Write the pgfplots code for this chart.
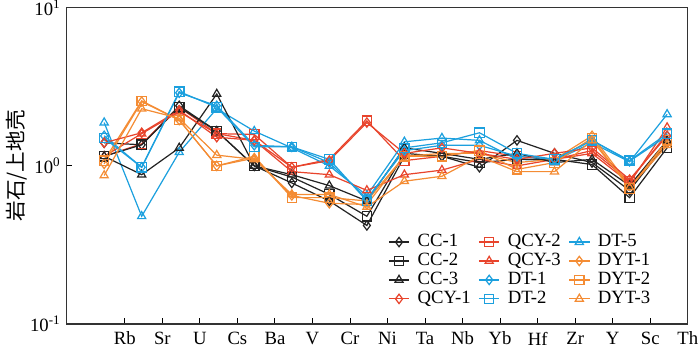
\documentclass[border=0pt]{standalone}
\usepackage{fontspec}
\setmainfont{Liberation Serif}
\newfontfamily\cjk{Noto Sans CJK SC}
\usepackage{pgfplots}
\usepackage{pgfplotstable}
\pgfplotsset{compat=1.18}

\definecolor{ccc}{RGB}{35,35,35}
\definecolor{qcy}{RGB}{232,68,44}
\definecolor{dt}{RGB}{28,160,222}
\definecolor{dyt}{RGB}{244,140,52}

% element index 0..15, values normalised to upper crust
\pgfplotstableread{
i  CCa  CCb  CCc  QCYa QCYb QCYc DTa  DTb  DTe  DYTa DYTb DYTc
0  1.40 1.15 1.15 1.40 1.15 1.15 1.55 1.50 1.88 1.03 1.08 0.87
1  1.36 1.36 0.88 1.62 1.38 1.60 0.98 0.98 0.48 2.55 2.58 2.30
2  2.40 2.35 1.30 2.25 2.35 2.20 2.90 2.95 1.22 1.95 1.95 2.00
3  1.66 1.66 2.85 1.52 1.60 1.60 2.40 2.35 2.30 1.00 1.00 1.17
4  1.00 1.00 1.00 1.45 1.58 1.45 1.35 1.32 1.66 1.12 1.15 1.10
5  0.78 0.85 0.88 0.98 0.98 0.92 1.32 1.32 1.30 0.65 0.63 0.66
6  0.60 0.66 0.75 1.08 1.10 0.88 1.05 1.10 1.00 0.58 0.63 0.66
7  0.42 0.48 0.60 1.88 1.93 0.70 0.62 0.60 0.65 0.57 0.60 0.55
8  1.15 1.20 1.30 1.20 1.08 0.88 1.25 1.30 1.42 1.15 1.15 0.80
9  1.15 1.15 1.20 1.30 1.15 0.94 1.35 1.40 1.50 1.20 1.15 0.86
10 0.98 1.05 1.10 1.20 1.25 1.10 1.35 1.62 1.45 1.20 1.25 1.15
11 1.45 1.10 1.20 1.10 1.15 1.00 1.15 1.20 1.10 1.05 0.95 0.92
12 1.20 1.10 1.05 1.20 1.10 1.10 1.10 1.10 1.08 1.10 1.05 0.92
13 1.05 1.02 1.10 1.30 1.25 1.20 1.45 1.45 1.40 1.55 1.50 1.45
14 0.70 0.63 0.75 0.82 0.80 0.78 1.07 1.08 1.06 0.75 0.72 0.73
15 1.40 1.30 1.45 1.55 1.60 1.75 1.55 1.60 2.12 1.40 1.45 1.35
}\datatab

\begin{document}
\begin{tikzpicture}
\begin{axis}[
    scale only axis,
    width=332pt, height=169pt,
    ymode=log, ymin=0.1, ymax=10,
    ytick={0.1,1,10},
    yticklabels={10\textsuperscript{-1},10\textsuperscript{0},10\textsuperscript{1}},
    yminorticks=false,
    xmin=-1, xmax=15.55,
    xtick={0.55,1.55,2.55,3.55,4.55,5.55,6.55,7.55,8.55,9.55,10.55,11.55,12.55,13.55,14.55,15.55},
    xticklabels={Rb,Sr,U,Cs,Ba,V,Cr,Ni,Ta,Nb,Yb,Hf,Zr,Y,Sc,Th},
    yticklabel style={inner sep=0pt, xshift=-3pt},
    xticklabel style={inner sep=1pt, yshift=-3pt},
    tick align=inside, xtick pos=bottom, ytick pos=left,
    major tick length=3pt,
    tick style={black, line width=0.5pt},
    axis line style={line width=0.7pt, black!80},
    ylabel={\fontsize{11pt}{13pt}\cjk 岩石/上地壳},
    ylabel style={yshift=-2pt},
    every axis plot/.append style={line width=0.65pt, mark size=2.5pt, mark options={solid}},
    legend columns=3,
    legend cell align=left,
    legend image code/.code={\draw[mark repeat=2,mark phase=2,#1] plot coordinates {(0pt,0pt) (5.5pt,0pt) (11pt,0pt)};},
    legend style={draw=none, fill=none, at={(0.508,0.305)}, anchor=north west,
        column sep=2.6pt, row sep=-1pt, nodes={inner sep=1.5pt}},
]
\addplot[ccc, mark=diamond]  table[x=i, y=CCa]  {\datatab}; \addlegendentry{CC-1}
\addplot[qcy, mark=square]   table[x=i, y=QCYb] {\datatab}; \addlegendentry{QCY-2}
\addplot[dt,  mark=triangle] table[x=i, y=DTe]  {\datatab}; \addlegendentry{DT-5}
\addplot[ccc, mark=square]   table[x=i, y=CCb]  {\datatab}; \addlegendentry{CC-2}
\addplot[qcy, mark=triangle] table[x=i, y=QCYc] {\datatab}; \addlegendentry{QCY-3}
\addplot[dyt, mark=diamond]  table[x=i, y=DYTa] {\datatab}; \addlegendentry{DYT-1}
\addplot[ccc, mark=triangle] table[x=i, y=CCc]  {\datatab}; \addlegendentry{CC-3}
\addplot[dt,  mark=diamond]  table[x=i, y=DTa]  {\datatab}; \addlegendentry{DT-1}
\addplot[dyt, mark=square]   table[x=i, y=DYTb] {\datatab}; \addlegendentry{DYT-2}
\addplot[qcy, mark=diamond]  table[x=i, y=QCYa] {\datatab}; \addlegendentry{QCY-1}
\addplot[dt,  mark=square]   table[x=i, y=DTb]  {\datatab}; \addlegendentry{DT-2}
\addplot[dyt, mark=triangle] table[x=i, y=DYTc] {\datatab}; \addlegendentry{DYT-3}
\end{axis}
\end{tikzpicture}
\end{document}
